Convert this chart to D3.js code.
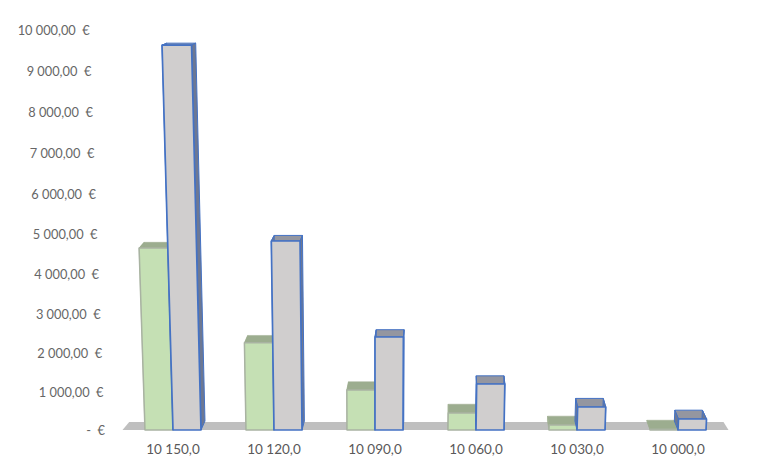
<!DOCTYPE html>
<html>
<head>
<meta charset="utf-8">
<script src="https://cdn.jsdelivr.net/npm/d3@7"></script>
<style>
    html, body { margin: 0; padding: 0; background: #fff; }
    text { font-family: Lato, "Open Sans", sans-serif; font-size: 13.5px; fill: #595959; }
    .yaxis text { font-size: 12.8px; fill: #666; }
</style>
</head>
<body>
<svg id="chart" width="758" height="467"></svg>
<script>
const categories = ["10 150,0", "10 120,0", "10 090,0", "10 060,0", "10 030,0", "10 000,0"];
const greenValues = [4650, 2260, 1050, 450, 130, 20];
const grayValues = [9630, 4825, 2410, 1205, 605, 290];
const tickValues = [0, 1000, 2000, 3000, 4000, 5000, 6000, 7000, 8000, 9000, 10000];
// the axis of the 3D chart is slightly compressed towards the bottom
const tickRows = [430, 392, 353, 314, 274, 234, 194, 153, 112, 71, 30];

const width = 758, height = 467;
const svg = d3.select("#chart");

const xscale = d3.scaleBand().domain(categories).range([122.5, 728.5]);
const xinner = d3.scaleBand().domain(["green", "gray"]).range([-28, 28]);
const yscale = d3.scaleLinear().domain(tickValues).range(tickRows);

const base = yscale(0);

// fake perspective: columns fan out as they rise and recede into the floor
function project(x, value, depth) {
    const y = yscale(value);
    const fx = 375 + (x - 375) * (1 + 0.000141 * (base - y));
    const dy = 2 + (y - 45) * 0.0182;
    return [fx + (450 - fx) * 0.016 * depth, y - dy * depth];
}

function poly(parent, points, fill, stroke, strokeWidth) {
    parent.append("polygon")
        .attr("points", points.map(p => p.join(",")).join(" "))
        .attr("fill", fill)
        .attr("stroke", stroke || "none")
        .attr("stroke-width", strokeWidth || 0)
        .attr("stroke-linejoin", "round");
}

// floor
const [x0, x1] = xscale.range();
poly(svg, [
    project(x0, 0, 0), project(x1, 0, 0),
    project(x1 - 1, 0, 0.9), project(x0 + 2, 0, 0.9)
], "#bfbfbf");

function drawBar(parent, left, right, value, style) {
    const fl = project(left, value, 0), fr = project(right, value, 0);
    const bl = project(left, value, 1), br = project(right, value, 1);
    const fl0 = project(left, 0, 0), fr0 = project(right, 0, 0);
    const bl0 = project(left, 0, 1), br0 = project(right, 0, 1);

    poly(parent, [fl, fr, br, bl], style.top, style.edge, style.edgeWidth);
    poly(parent, [fl, bl, bl0, fl0], style.side, style.edge, style.edgeWidth);
    poly(parent, [fr, br, br0, fr0], style.side, style.edge, style.edgeWidth);
    poly(parent, [fl, fr, fr0, fl0], style.front, style.stroke, style.strokeWidth);
}

const greenStyle = { front: "#c5e0b4", top: "#9cad8f", side: "#9cad8f", stroke: "#a9b3a2", strokeWidth: 1.5, edge: "#9cad8f", edgeWidth: 0.5 };
const grayStyle = { front: "#d0cece", top: "#9496a0", side: "#6d7893", stroke: "#4472c4", strokeWidth: 1.7, edge: "#4472c4", edgeWidth: 1 };

categories.forEach((c, i) => {
    const g = svg.append("g").attr("class", "group");
    const mid = xscale(c) + xscale.bandwidth() / 2;
    const gx = mid + xinner("green");
    const px = mid + xinner("gray");
    drawBar(g, gx, gx + xinner.bandwidth(), greenValues[i], greenStyle);
    drawBar(g, px, px + xinner.bandwidth(), grayValues[i], grayStyle);
});

// axes
const euro = d3.formatLocale({ decimal: ",", thousands: "\u00a0", grouping: [3], currency: ["", ""] }).format(",.2f");

const yaxis = svg.append("g")
    .attr("class", "yaxis")
    .call(d3.axisLeft(yscale)
        .tickValues(tickValues)
        .tickSize(0)
        .tickFormat(d => d === 0 ? "-\u00a0\u00a0\u20ac" : euro(d) + "\u00a0\u00a0\u20ac"));
yaxis.select(".domain").remove();
yaxis.selectAll(".tick")
    .attr("transform", d => {
        const p = project(105, d, 0);
        return "translate(" + p[0] + "," + (p[1] + 0.7) + ")";
    });
yaxis.selectAll("text").attr("x", 0);

const xaxis = svg.append("g")
    .attr("transform", "translate(0,450)")
    .call(d3.axisBottom(xscale).tickSize(0));
xaxis.select(".domain").remove();
xaxis.selectAll("text").attr("y", 0).attr("dy", "0.32em");

// axis() sets its own font on the group, keep the page one
svg.selectAll("g").attr("font-family", null).attr("font-size", null);
</script>
</body>
</html>
